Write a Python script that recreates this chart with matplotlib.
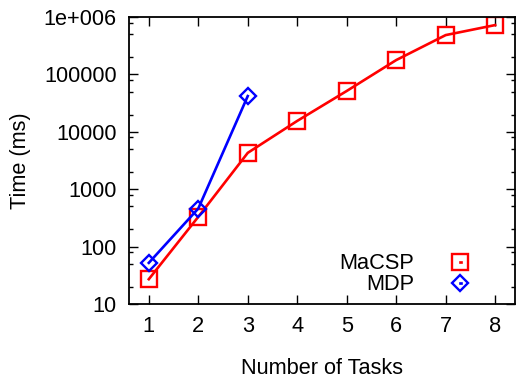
import numpy as np
import matplotlib
matplotlib.use('Agg')
import matplotlib.pyplot as plt
from matplotlib.ticker import LogLocator, NullFormatter

plt.rcParams['font.family'] = ['Liberation Sans', 'DejaVu Sans']

tasks_macsp = [1, 2, 3, 4, 5, 6, 7, 8]
time_macsp = [27, 330, 4300, 15500, 51500, 178000, 485000, 725000]
tasks_mdp = [1, 2, 3]
time_mdp = [52, 460, 42000]

y_ticks = [10, 100, 1000, 10000, 100000, 1000000]
y_labels = ['10', '100', '1000', '10000', '100000', '1e+006']

FS = 15.7

fig = plt.figure(figsize=(5.16, 3.79), dpi=100)
ax = fig.add_axes([0.25, 0.198, 0.748, 0.757])

ax.plot(tasks_macsp, time_macsp, color='#ff0000', lw=1.9, marker='s', ms=11,
        mfc='none', mec='#ff0000', mew=1.7, label='MaCSP')
ax.plot(tasks_mdp, time_mdp, color='#0000ff', lw=1.9, marker='D', ms=8.5,
        mfc='none', mec='#0000ff', mew=1.7, label='MDP')

ax.set_yscale('log')
ax.set_ylim(10, 1e6)
ax.set_xlim(0.6, 8.4)
ax.set_xticks(range(1, 9))
ax.set_yticks(y_ticks)
ax.set_yticklabels(y_labels)
ax.yaxis.set_minor_locator(LogLocator(base=10, subs=[2, 5, 8]))
ax.yaxis.set_minor_formatter(NullFormatter())

ax.tick_params(which='major', direction='in', length=6.5, width=1.0,
               top=True, right=True, labelsize=FS, pad=9, colors='black')
ax.tick_params(which='minor', direction='in', length=3.2, width=1.0,
               top=False, right=True)
for s in ax.spines.values():
    s.set_linewidth(1.3)

ax.set_xlabel('Number of Tasks', fontsize=FS, labelpad=15)
ax.set_ylabel('Time (ms)', fontsize=FS, labelpad=9)

leg = ax.legend(loc='lower right', bbox_to_anchor=(0.882, 0.0), frameon=False,
                markerfirst=False, handlelength=0.05, handletextpad=2.1,
                fontsize=FS, labelspacing=0.0, borderaxespad=0.0)

fig.savefig('out.png', dpi=100)
